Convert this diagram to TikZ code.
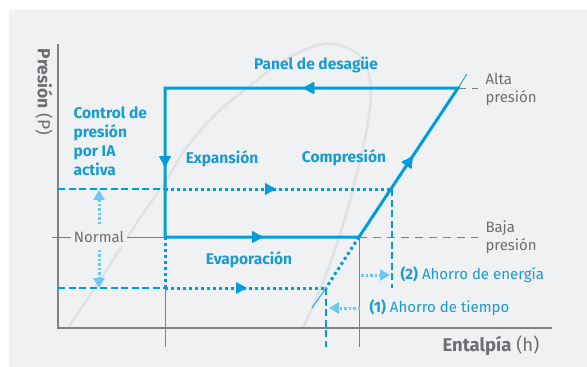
\documentclass[tikz,border=0pt]{standalone}
\usepackage{fontspec}
\setmainfont{Fira Sans}
\usetikzlibrary{arrows.meta,decorations.markings}
\definecolor{panel}{HTML}{F0F1F3}
\definecolor{cycblue}{HTML}{009DDB}
\definecolor{txtblue}{HTML}{1A9BD0}
\definecolor{lightblue}{HTML}{6CC8F0}
\definecolor{txtgray}{HTML}{6D6E71}
\definecolor{axgray}{HTML}{808080}
\definecolor{domegray}{HTML}{E1E2E4}

\begin{document}
\begin{tikzpicture}[x=1pt, y=-1pt,
  cycleline/.style = {cycblue, line width=3pt, line join=miter},
  dotline/.style = {cycblue, line width=3pt, dash pattern=on 3pt off 3pt},
  dashline/.style = {cycblue, line width=1.3pt, dash pattern=on 7pt off 3.5pt},
  grayline/.style = {axgray, line width=1pt},
  graydash/.style = {axgray, line width=1pt, dash pattern=on 8pt off 6pt},
  lbarrow/.style = {lightblue, line width=3pt, dash pattern=on 2.5pt off 2pt,
    -{Triangle[length=10pt,width=11pt]}},
  bluetext/.style = {txtblue, font=\fontsize{15.5}{19}\selectfont\bfseries},
  graytext/.style = {txtgray, font=\fontsize{15}{18}\selectfont, align=left},
  midtip/.style = {postaction={decorate}, decoration={markings,
    mark=at position #1 with {\arrow{Triangle[length=11pt,width=11pt]}}}}]

% frame
\useasboundingbox (0,0) rectangle (587,367);
\fill[white] (0,0) rectangle (587,367);
\fill[panel] (9,10) rectangle (587,367);

% saturation dome
\draw[domegray, line width=2.5pt] plot[smooth, tension=0.6] coordinates {
  (68,328) (100,280) (140,218) (165,182) (187,147) (215,115) (247,88)
  (285,60) (323,44) (352,50) (366,66) (371,92) (367,128) (358,168)
  (345,218) (326,275) (303,328)};

% points of the cycle
\coordinate (tl) at (165,88);
\coordinate (tr) at (458,88);
\coordinate (bl) at (165,237);
\coordinate (br) at (359,237);
\coordinate (hiL) at (165,189);
\coordinate (hiR) at (392,189);
\coordinate (loL) at (165,288);
\coordinate (loR) at (326,288);
\coordinate (trx) at (467,74);
\coordinate (lox) at (312,308);

% axes
\coordinate (o) at (58,328);
\coordinate (ytop) at (58,44);
\coordinate (xend) at (552,328);
\draw[axgray, line width=1.5pt] (ytop) -- (o) -- (xend);

% gray guides
\coordinate (tick) at (52,237);
\coordinate (hTop) at (478,88);
\coordinate (hLow) at (478,237);
\coordinate (g1) at (165,347);
\coordinate (g2) at (359,347);
\draw[grayline] (tick) -- (bl);
\draw[grayline] (loL) -- (g1);
\draw[grayline] (br) -- (g2);
\draw[graydash] (tr) -- (hTop);
\draw[graydash] (br) -- (hLow);

% IA control levels
\coordinate (hiA) at (58,189);
\coordinate (loA) at (58,288);
\coordinate (hiB) at (392,288);
\coordinate (loB) at (326,347);
\draw[dashline] (hiA) -- (hiL);
\draw[dashline] (loA) -- (loL);
\draw[dashline] (hiR) -- (hiB);
\draw[dashline] (loR) -- (loB);
\draw[dotline, midtip=0.49] (hiL) -- (hiR);
\draw[dotline, midtip=0.51] (loL) -- (loR);
\draw[dotline] (bl) -- (loL);
\draw[dotline] (br) -- (loR);
\draw[cycblue, line width=0.8pt] (loR) -- (lox);
\draw[cycblue, line width=0.8pt] (tr) -- (trx);

% main cycle
\draw[cycleline, midtip=155pt, midtip=372pt, midtip=540pt, midtip=733pt]
  (tr) -- (tl) -- (bl) -- (br) -- cycle;

% labels
\node[graytext, fill=panel, inner sep=3pt] (normal) at (99,237) {Normal};
\coordinate (nUp) at (99,190);
\coordinate (nDown) at (99,288);
\draw[lbarrow, shorten <=4pt] (normal.north) -- (nUp);
\draw[lbarrow, shorten <=4pt] (normal.south) -- (nDown);

\node[bluetext] (panel) at (316,65) {Panel de desagüe};
\node[bluetext, anchor=north west, align=left] (ia) at (70,103)
  {Control de\\presión\\por IA\\activa};
\node[bluetext] (exp) at (222,159) {Expansión};
\node[bluetext] (comp) at (344,158) {Compresión};
\node[bluetext] (evap) at (249,260) {Evaporación};

\node[graytext, anchor=west] (alta) at (482,89) {Alta\\presión};
\node[graytext, anchor=west] (baja) at (482,237) {Baja\\presión};

\node[txtblue, anchor=west, font=\fontsize{15}{18}\selectfont] (saveE) at (397,275)
  {\textbf{(2)} Ahorro de energía};
\node[txtblue, anchor=west, font=\fontsize{15}{18}\selectfont] (saveT) at (366,308)
  {\textbf{(1)} Ahorro de tiempo};
\coordinate (e1) at (361,275);
\coordinate (t1) at (329,308);
\draw[lbarrow, shorten >=7pt] (e1) -- (saveE.west);
\draw[lbarrow, shorten <=6pt] (saveT.west) -- (t1);

\node[txtgray, anchor=west, font=\fontsize{18.5}{21}\selectfont] (xlab) at (439,346)
  {\textbf{Entalpía} (h)};
\node[txtgray, rotate=-90, font=\fontsize{17.5}{20}\selectfont] (ylab) at (44,92)
  {\textbf{Presión} (P)};
\end{tikzpicture}
\end{document}
